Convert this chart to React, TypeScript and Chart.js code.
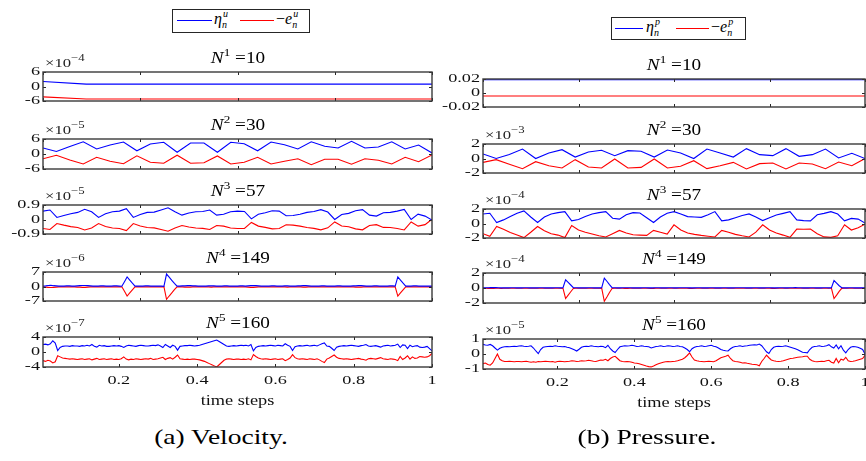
import React, { useEffect, useRef } from "react";
import { Chart, registerables } from "chart.js";

Chart.register(...registerables);

// ---------------- data ----------------
const stageSup = ["1", "2", "3", "4", "5"];
const stageCounts = [10, 30, 57, 149, 160];
const velExponents = ["-4", "-5", "-5", "-6", "-7"];
const presExponents = ["", "-3", "-4", "-4", "-5"];
const velYMax = [6, 6, 0.9, 7, 4];
const presYMax = [0.02, 2, 2, 2, 1];
const bottomTicks = [0.2, 0.4, 0.6, 0.8, 1];
const xAxisTitle = "time steps";

const velN1Eta = [2.1, 1.0, 1.0, 1.0, 1.0, 1.0, 1.0, 1.0, 1.0, 1.0];
const velN1Err = [-4.3, -5.2, -5.2, -5.2, -5.2, -5.2, -5.2, -5.2, -5.2, -5.2];

const velN2Eta = [2.4, 1.0, 3.0, 4.9, 2.0, 3.6, 4.8, 1.3, 4.0, 4.7, 0.7, 4.4, 4.4, 0.7, 4.7, 4.1, 1.3, 4.8, 3.7, 2.0, 4.9, 3.1, 2.4, 5.1, 2.4, 2.8, 4.9, 2.0, 3.6, 0.4];
const velN2Err = [-1.9, -0.5, -2.4, -4.0, -1.3, -2.9, -3.9, -0.7, -3.3, -3.7, -0.5, -3.7, -3.5, -0.8, -4.0, -3.3, -1.3, -4.0, -2.9, -1.9, -4.3, -2.1, -2.1, -4.1, -1.9, -2.5, -4.0, -1.3, -3.1, -0.4];

const velN3Eta = [
  0.52, 0.59, 0.13, 0.25, 0.36, 0.44, 0.63, 0.48, 0.13, 0.36,
  0.48, 0.52, 0.67, 0.13, 0.31, 0.44, 0.46, 0.59, 0.73, 0.48,
  0.27, 0.40, 0.48, 0.50, 0.59, 0.27, 0.33, 0.48, 0.52, 0.50,
  0.04, 0.33, 0.42, 0.54, 0.52, 0.23, 0.25, 0.33, 0.44, 0.50,
  0.61, 0.46, 0.0, 0.31, 0.38, 0.54, 0.61, 0.27, 0.21, 0.42,
  0.44, 0.52, 0.63, 0.0, 0.33, 0.21, -0.04,
];
const velN3Err = [
  -0.56, -0.62, -0.25, -0.35, -0.44, -0.50, -0.65, -0.53, -0.25, -0.44,
  -0.53, -0.56, -0.69, -0.25, -0.40, -0.50, -0.52, -0.62, -0.73, -0.53,
  -0.37, -0.47, -0.53, -0.55, -0.62, -0.37, -0.41, -0.53, -0.56, -0.55,
  -0.18, -0.41, -0.49, -0.58, -0.56, -0.33, -0.35, -0.41, -0.50, -0.55,
  -0.64, -0.52, -0.15, -0.40, -0.45, -0.58, -0.64, -0.37, -0.32, -0.49,
  -0.50, -0.56, -0.65, -0.15, -0.41, -0.32, 0.02,
];

const velN4Eta = [
  0.2, 0.3, 0.5, 0.6, 0.4, 0.3, 0.2, 0.2, 0.2, 0.3,
  0.3, 0.2, 0.2, 0.3, 0.4, 0.5, 0.5, 0.4, 0.3, 0.2,
  0.2, 0.2, 0.3, 0.3, 0.2, 0.2, 0.2, 0.3, 0.3, 0.2,
  0.1, 2.3, 4.6, 3.1, 1.6, 0.2, 0.2, 0.2, 0.2, 0.3,
  0.3, 0.2, 0.2, 0.2, 0.2, 0.2, 0.1, 6.0, 4.5, 3.0,
  1.5, 0.2, 0.2, 0.3, 0.3, 0.4, 0.4, 0.3, 0.3, 0.2,
  0.2, 0.2, 0.2, 0.3, 0.3, 0.3, 0.2, 0.2, 0.2, 0.3,
  0.3, 0.2, 0.2, 0.2, 0.2, 0.3, 0.3, 0.2, 0.3, 0.4,
  0.5, 0.4, 0.3, 0.2, 0.2, 0.2, 0.2, 0.3, 0.3, 0.2,
  0.2, 0.2, 0.3, 0.3, 0.2, 0.2, 0.2, 0.3, 0.3, 0.4,
  0.4, 0.3, 0.2, 0.2, 0.2, 0.2, 0.3, 0.3, 0.2, 0.2,
  0.2, 0.2, 0.3, 0.3, 0.2, 0.2, 0.2, 0.2, 0.3, 0.3,
  0.4, 0.4, 0.3, 0.2, 0.2, 0.2, 0.3, 0.3, 0.2, 0.2,
  0.2, 0.2, 0.3, 0.3, 0.2, 4.6, 3.1, 1.6, 0.2, 0.2,
  0.2, 0.3, 0.3, 0.2, 0.2, 0.2, 0.2, 0.2, 0.2,
];
const velN4Err = [
  -0.2, -0.3, -0.4, -0.5, -0.4, -0.3, -0.2, -0.2, -0.2, -0.2,
  -0.2, -0.2, -0.2, -0.3, -0.3, -0.4, -0.4, -0.3, -0.2, -0.2,
  -0.2, -0.2, -0.2, -0.2, -0.2, -0.2, -0.2, -0.2, -0.2, -0.2,
  -0.1, -2.3, -4.6, -3.1, -1.6, -0.2, -0.2, -0.2, -0.2, -0.2,
  -0.2, -0.2, -0.2, -0.2, -0.2, -0.2, -0.1, -6.2, -4.6, -3.1,
  -1.5, -0.2, -0.2, -0.2, -0.3, -0.3, -0.3, -0.2, -0.2, -0.2,
  -0.2, -0.2, -0.2, -0.2, -0.3, -0.2, -0.2, -0.2, -0.2, -0.2,
  -0.2, -0.2, -0.2, -0.2, -0.2, -0.2, -0.2, -0.2, -0.3, -0.4,
  -0.4, -0.3, -0.2, -0.2, -0.2, -0.2, -0.2, -0.2, -0.2, -0.2,
  -0.2, -0.2, -0.2, -0.3, -0.2, -0.2, -0.2, -0.2, -0.2, -0.3,
  -0.3, -0.2, -0.2, -0.2, -0.2, -0.2, -0.2, -0.2, -0.2, -0.2,
  -0.2, -0.2, -0.2, -0.2, -0.2, -0.2, -0.2, -0.2, -0.2, -0.3,
  -0.3, -0.3, -0.2, -0.2, -0.2, -0.2, -0.2, -0.2, -0.2, -0.2,
  -0.2, -0.2, -0.2, -0.2, -0.2, -4.6, -3.1, -1.6, -0.2, -0.2,
  -0.2, -0.2, -0.2, -0.2, -0.2, -0.2, -0.2, -0.2, -0.2,
];

const velN5Eta = [
  2.0, 2.1, 1.9, 2.2, 3.0, 2.4, 0.4, 1.2, 1.5, 1.6,
  1.6, 1.5, 1.7, 1.6, 1.6, 1.5, 1.7, 1.6, 1.8, 1.6,
  2.0, 1.5, 1.3, 1.8, 1.6, 1.7, 1.5, 1.5, 1.6, 1.7,
  1.6, 1.7, 1.5, 1.2, 1.6, 1.8, 1.7, 1.6, 1.5, 1.7,
  1.8, 1.7, 1.6, 1.6, 1.7, 1.8, 1.7, 1.9, 1.6, 1.2,
  2.0, 1.6, 1.2, 1.8, 1.5, 0.5, 1.5, 1.6, 1.7, 1.7,
  1.8, 1.7, 1.6, 1.7, 1.8, 2.0, 2.2, 2.4, 2.6, 2.8,
  3.0, 3.2, 2.8, 2.4, 2.0, 1.6, 1.5, 1.6, 1.7, 1.6,
  1.7, 1.8, 1.7, 1.8, 1.6, 2.0, 0.3, 1.2, 1.5, 1.6,
  1.7, 1.6, 1.7, 1.8, 1.7, 1.6, 1.8, 1.7, 1.6, 2.2,
  1.8, 1.5, 0.4, 1.4, 1.6, 1.7, 1.6, 1.7, 1.8, 1.6,
  1.7, 1.8, 1.6, 1.9, 2.2, 2.4, 1.6, 1.5, 1.0, 0.4,
  1.3, 1.5, 1.6, 1.7, 1.6, 1.7, 1.8, 1.7, 1.6, 1.5,
  1.7, 1.8, 2.0, 1.6, 1.5, 1.6, 1.7, 1.5, 1.3, 1.6,
  1.7, 1.8, 1.6, 1.7, 1.8, 2.1, 1.2, 1.9, 1.8, 0.9,
  1.8, 1.4, 1.6, 1.7, 1.3, 1.2, 1.3, 1.5, 0.9, 0.3,
];
const velN5Err = [
  -2.3, -2.5, -2.2, -2.4, -2.9, -2.6, -1.0, -1.3, -1.6, -1.7,
  -1.8, -1.9, -1.8, -1.9, -2.0, -1.9, -1.8, -2.0, -1.9, -1.8,
  -2.1, -1.9, -1.7, -2.0, -1.9, -1.8, -2.0, -1.9, -1.8, -2.0,
  -1.9, -2.0, -1.8, -1.3, -1.9, -2.1, -1.9, -2.0, -1.8, -1.9,
  -2.0, -1.9, -1.8, -1.9, -1.7, -2.0, -1.9, -1.8, -1.6, -1.4,
  -2.0, -1.7, -1.5, -1.9, -1.4, -0.8, -1.8, -1.9, -2.0, -1.9,
  -2.0, -1.9, -1.9, -2.0, -2.1, -2.3, -2.5, -2.8, -3.1, -3.4,
  -3.7, -4.0, -3.4, -2.8, -2.2, -1.9, -1.8, -1.9, -2.0, -1.9,
  -1.9, -2.0, -1.9, -2.0, -1.8, -2.1, -0.7, -1.2, -1.6, -1.8,
  -1.9, -1.8, -1.9, -2.0, -1.9, -1.8, -2.0, -1.9, -1.8, -2.3,
  -2.0, -1.6, -0.7, -1.5, -1.8, -1.9, -1.8, -1.9, -2.0, -1.8,
  -1.9, -2.0, -1.8, -2.1, -2.5, -2.8, -1.9, -1.6, -1.2, -0.8,
  -1.4, -1.7, -1.8, -1.9, -1.8, -1.9, -2.0, -1.9, -1.8, -1.7,
  -1.9, -2.0, -2.2, -1.8, -1.7, -1.8, -1.9, -1.7, -1.5, -1.8,
  -1.9, -2.0, -1.8, -1.9, -2.0, -2.3, -1.2, -2.0, -1.6, -1.0,
  -1.9, -1.3, -1.7, -1.6, -1.2, -1.3, -1.4, -1.3, -1.0, -0.4,
];

const presN1Eta = [0.019, 0.019, 0.019, 0.019, 0.019, 0.019, 0.019, 0.019, 0.019, 0.019];
const presN1Err = [-0.0043, -0.0043, -0.0043, -0.0043, -0.0043, -0.0043, -0.0043, -0.0043, -0.0043, -0.0043];

const presN2Eta = [0.62, 0.0, 0.55, 1.31, 0.0, 0.76, 1.22, 0.2, 0.9, 1.13, 0.39, 1.08, 0.99, 0.2, 1.17, 0.76, 0.0, 1.31, 0.76, 0.2, 1.36, 0.53, 0.39, 1.36, 0.3, 0.53, 1.31, 0.07, 0.71, 0.0];
const presN2Err = [-0.53, -0.16, -0.8, -1.4, -0.44, -0.99, -1.31, -0.16, -1.17, -1.31, -0.07, -1.31, -1.22, -0.07, -1.31, -1.08, -0.3, -1.4, -0.99, -0.53, -1.45, -0.71, -0.62, -1.45, -0.62, -0.76, -1.4, -0.48, -0.99, 0.0];

const presN3Eta = [
  1.32, 1.41, 0.14, 0.5, 0.95, 1.4, 1.73, 0.9, 0.14, 0.9,
  1.3, 1.5, 1.64, 0.36, 0.55, 0.95, 1.32, 1.5, 1.64, 0.73,
  0.6, 1.2, 1.5, 1.45, 0.8, 0.14, 0.9, 1.41, 1.64, 1.3,
  0.95, 0.9, 0.85, 1.2, 1.64, 0.36, 0.5, 0.8, 1.1, 1.32,
  0.9, 0.41, 0.8, 1.18, 1.4, 1.64, 0.5, 0.4, 0.36, 1.2,
  1.4, 1.64, 1.3, 0.36, 0.7, 0.6, 0.05,
];
const presN3Err = [
  -1.41, -1.77, -0.41, -0.8, -1.23, -1.6, -1.95, -1.2, -0.41, -1.0,
  -1.41, -1.6, -1.95, -0.27, -0.9, -1.2, -1.45, -1.7, -1.86, -1.4,
  -0.95, -1.3, -1.55, -1.6, -1.64, -0.95, -1.2, -1.45, -0.18, -0.9,
  -1.32, -1.5, -1.64, -1.75, -1.86, -0.95, -1.2, -1.5, -1.7, -1.86,
  -1.2, -0.18, -0.9, -1.32, -1.6, -1.91, -0.77, -0.8, -0.75, -1.4,
  -1.85, -1.91, -1.7, -0.18, -0.9, -0.6, -0.1,
];

const presN4Eta = [
  0.02, 0.03, 0.04, 0.05, 0.06, 0.05, 0.03, 0.02, 0.02, 0.02,
  0.02, 0.03, 0.03, 0.02, 0.02, 0.02, 0.03, 0.03, 0.02, 0.02,
  0.02, 0.02, 0.03, 0.03, 0.02, 0.02, 0.02, 0.02, 0.03, 0.03,
  0.02, 0.05, 1.1, 0.75, 0.4, 0.05, 0.03, 0.02, 0.02, 0.02,
  0.02, 0.03, 0.03, 0.02, 0.02, 0.02, 0.04, 1.32, 0.9, 0.46,
  0.05, 0.03, 0.02, 0.02, 0.03, 0.04, 0.04, 0.03, 0.02, 0.02,
  0.02, 0.02, 0.03, 0.03, 0.02, 0.02, 0.02, 0.03, 0.03, 0.02,
  0.02, 0.02, 0.03, 0.03, 0.02, 0.02, 0.03, 0.04, 0.04, 0.03,
  0.02, 0.02, 0.02, 0.03, 0.03, 0.02, 0.02, 0.02, 0.03, 0.03,
  0.02, 0.02, 0.02, 0.03, 0.03, 0.02, 0.02, 0.02, 0.03, 0.04,
  0.04, 0.03, 0.02, 0.02, 0.02, 0.03, 0.03, 0.02, 0.02, 0.02,
  0.03, 0.03, 0.02, 0.02, 0.02, 0.03, 0.03, 0.02, 0.02, 0.03,
  0.04, 0.05, 0.04, 0.03, 0.02, 0.02, 0.02, 0.03, 0.03, 0.02,
  0.02, 0.02, 0.03, 0.03, 0.02, 0.03, 1.0, 0.65, 0.3, 0.04,
  0.02, 0.02, 0.03, 0.03, 0.02, 0.02, 0.02, 0.02, 0.02,
];
const presN4Err = [
  -0.03, -0.04, -0.05, -0.06, -0.05, -0.04, -0.03, -0.06, -0.03, -0.03,
  -0.03, -0.03, -0.03, -0.03, -0.03, -0.03, -0.04, -0.04, -0.03, -0.03,
  -0.03, -0.03, -0.03, -0.03, -0.03, -0.03, -0.03, -0.03, -0.03, -0.03,
  -0.03, -0.06, -1.4, -0.95, -0.5, -0.06, -0.03, -0.03, -0.03, -0.03,
  -0.03, -0.03, -0.03, -0.03, -0.03, -0.03, -0.05, -1.77, -1.2, -0.6,
  -0.06, -0.03, -0.03, -0.03, -0.04, -0.05, -0.05, -0.04, -0.03, -0.03,
  -0.03, -0.03, -0.03, -0.03, -0.04, -0.06, -0.05, -0.03, -0.03, -0.03,
  -0.03, -0.03, -0.03, -0.03, -0.03, -0.03, -0.03, -0.03, -0.03, -0.04,
  -0.05, -0.06, -0.04, -0.03, -0.03, -0.03, -0.03, -0.03, -0.03, -0.03,
  -0.03, -0.03, -0.03, -0.03, -0.03, -0.03, -0.03, -0.03, -0.03, -0.03,
  -0.03, -0.03, -0.03, -0.03, -0.03, -0.03, -0.03, -0.03, -0.03, -0.03,
  -0.03, -0.04, -0.05, -0.06, -0.04, -0.03, -0.03, -0.03, -0.03, -0.03,
  -0.03, -0.03, -0.03, -0.03, -0.03, -0.03, -0.03, -0.03, -0.03, -0.03,
  -0.03, -0.03, -0.03, -0.03, -0.03, -0.04, -1.41, -0.95, -0.45, -0.05,
  -0.03, -0.03, -0.03, -0.03, -0.03, -0.03, -0.03, -0.03, -0.03,
];

const presN5Eta = [
  0.64, 0.6, 0.58, 0.64, 0.55, 0.4, 0.26, 0.38, 0.45, 0.48,
  0.5, 0.48, 0.5, 0.52, 0.5, 0.53, 0.55, 0.52, 0.5, 0.52,
  0.55, 0.4, 0.2, 0.03, 0.3, 0.45, 0.48, 0.5, 0.52, 0.5,
  0.55, 0.52, 0.5, 0.48, 0.5, 0.45, 0.42, 0.35, 0.28, 0.2,
  0.32, 0.45, 0.5, 0.52, 0.5, 0.55, 0.52, 0.5, 0.48, 0.52,
  0.5, 0.42, 0.58, 0.35, 0.2, 0.1, 0.3, 0.48, 0.52, 0.55,
  0.53, 0.55, 0.58, 0.55, 0.5, 0.52, 0.55, 0.52, 0.5, 0.48,
  0.4, 0.45, 0.5, 0.52, 0.55, 0.5, 0.52, 0.55, 0.53, 0.5,
  0.52, 0.55, 0.5, 0.48, 0.4, 0.3, 0.15, 0.35, 0.45, 0.5,
  0.52, 0.55, 0.5, 0.52, 0.55, 0.58, 0.52, 0.48, 0.4, 0.3,
  0.25, 0.22, 0.2, 0.35, 0.45, 0.5, 0.52, 0.55, 0.5, 0.53,
  0.55, 0.58, 0.6, 0.62, 0.6, 0.66, 0.55, 0.35, 0.15, 0.03,
  0.3, 0.45, 0.5, 0.52, 0.5, 0.52, 0.55, 0.5, 0.45, 0.4,
  0.35, 0.28, 0.2, 0.12, 0.1, 0.08, 0.3, 0.45, 0.5, 0.52,
  0.55, 0.5, 0.52, 0.55, 0.62, 0.48, 0.4, 0.6, 0.35, 0.55,
  0.25, 0.08, 0.3, 0.45, 0.5, 0.48, 0.45, 0.38, 0.3, 0.0,
];
const presN5Err = [
  -0.64, -0.6, -0.7, -0.75, -0.6, -0.3, 0.0, -0.35, -0.45, -0.5,
  -0.5, -0.48, -0.5, -0.52, -0.5, -0.5, -0.52, -0.5, -0.48, -0.52,
  -0.55, -0.52, -0.55, -0.5, -0.52, -0.5, -0.48, -0.5, -0.52, -0.5,
  -0.55, -0.5, -0.48, -0.5, -0.52, -0.5, -0.48, -0.45, -0.47, -0.5,
  -0.48, -0.45, -0.47, -0.45, -0.42, -0.45, -0.48, -0.5, -0.45, -0.4,
  -0.42, -0.35, -0.45, -0.3, -0.2, -0.15, -0.3, -0.45, -0.5, -0.52,
  -0.5, -0.52, -0.55, -0.6, -0.62, -0.65, -0.7, -0.75, -0.8, -0.84,
  -0.86, -0.8, -0.72, -0.65, -0.6, -0.55, -0.52, -0.5, -0.52, -0.5,
  -0.48, -0.45, -0.4, -0.35, -0.25, -0.1, 0.07, -0.2, -0.4, -0.45,
  -0.48, -0.5, -0.52, -0.5, -0.48, -0.5, -0.52, -0.45, -0.35, -0.25,
  -0.2, -0.15, -0.08, -0.3, -0.45, -0.5, -0.52, -0.55, -0.6, -0.58,
  -0.62, -0.65, -0.68, -0.7, -0.72, -0.78, -0.5, -0.3, -0.08, -0.25,
  -0.4, -0.45, -0.48, -0.5, -0.48, -0.45, -0.4, -0.35, -0.3, -0.28,
  -0.25, -0.22, -0.2, -0.18, -0.15, -0.15, -0.35, -0.45, -0.5, -0.52,
  -0.5, -0.48, -0.5, -0.45, -0.42, -0.55, -0.6, -0.3, -0.58, -0.35,
  -0.4, -0.22, -0.45, -0.5, -0.48, -0.45, -0.4, -0.35, -0.3, -0.08,
];

const velEta = [velN1Eta, velN2Eta, velN3Eta, velN4Eta, velN5Eta];
const velErr = [velN1Err, velN2Err, velN3Err, velN4Err, velN5Err];
const presEta = [presN1Eta, presN2Eta, presN3Eta, presN4Eta, presN5Eta];
const presErr = [presN1Err, presN2Err, presN3Err, presN4Err, presN5Err];

// ---------------- layout ----------------
const FONT = '"Liberation Serif", "Times New Roman", serif';
const TOP_PAD = 14;
const RIGHT_PAD = 14;
const X_H = 46;
const TICK_SIZE = 13;
const TICK_STRETCH = 1.4;
const columns = [
  { canvasLeft: 0, plotL: 43, plotR: 432, rows: [[72, 101], [139, 169], [205, 234], [272, 301], [337, 367]] },
  { canvasLeft: 440, plotL: 483, plotR: 865, rows: [[79, 107], [144, 173], [209, 238], [273, 303], [339, 369]] },
];

function stretchedText(ctx: any, text: string, x: number, y: number, align: string, size: number, stretch: number) {
  ctx.save();
  ctx.translate(x, y);
  ctx.scale(stretch, 1);
  ctx.font = `${size}px ${FONT}`;
  ctx.fillStyle = "#111";
  ctx.textAlign = align;
  ctx.textBaseline = "middle";
  ctx.fillText(text, 0, 0);
  ctx.restore();
}

const boxPlugin = {
  id: "matlabBox",
  afterDatasetsDraw(chart: any, _args: any, opts: any) {
    const { ctx, chartArea, scales } = chart;
    const { left, right, top, bottom } = chartArea;
    const L = 3;
    ctx.save();
    ctx.strokeStyle = "#262626";
    ctx.lineWidth = 1;
    ctx.beginPath();
    scales.x.ticks.forEach((t: any) => {
      const px = Math.round(scales.x.getPixelForValue(t.value)) + 0.5;
      ctx.moveTo(px, bottom);
      ctx.lineTo(px, bottom - L);
      ctx.moveTo(px, top);
      ctx.lineTo(px, top + L);
    });
    scales.y.ticks.forEach((t: any) => {
      const py = Math.round(scales.y.getPixelForValue(t.value)) + 0.5;
      ctx.moveTo(left, py);
      ctx.lineTo(left + L, py);
      ctx.moveTo(right, py);
      ctx.lineTo(right - L, py);
    });
    ctx.stroke();
    ctx.strokeStyle = "#3a3a3a";
    ctx.lineWidth = 1.4;
    ctx.strokeRect(left, top, right - left, bottom - top);
    ctx.restore();

    // tick labels (stretched like the reference typeface)
    scales.y.ticks.forEach((t: any) => {
      stretchedText(ctx, String(t.value), left - 3, scales.y.getPixelForValue(t.value), "right", TICK_SIZE, TICK_STRETCH);
    });
    if (opts.showX) {
      scales.x.ticks.forEach((t: any) => {
        stretchedText(ctx, String(t.value), scales.x.getPixelForValue(t.value), bottom + 14, "center", TICK_SIZE, TICK_STRETCH);
      });
      stretchedText(ctx, opts.title, (left + right) / 2, bottom + 34, "center", 15, 1.22);
    }
  },
};

type PanelProps = {
  col: number;
  row: number;
  eta: number[];
  err: number[];
  yMax: number;
};

function Panel({ col, row, eta, err, yMax }: PanelProps) {
  const ref = useRef<HTMLCanvasElement>(null);
  const c = columns[col];
  const [pt, pb] = c.rows[row];
  const isBottom = row === 4;
  const canvasW = c.plotR + RIGHT_PAD - c.canvasLeft;
  const canvasH = isBottom ? TOP_PAD + (pb - pt) + X_H : TOP_PAD * 2 + (pb - pt);
  const yW = c.plotL - c.canvasLeft;
  const n = eta.length;
  const xMin = 1 / n;
  const xTicks = isBottom ? bottomTicks : [0, 1, 2, 3, 4].map((k) => xMin + (k * (1 - xMin)) / 4);
  const yTicks = [-yMax, 0, yMax];

  useEffect(() => {
    const chart = new Chart(ref.current as HTMLCanvasElement, {
      type: "line",
      data: {
        datasets: [
          {
            data: eta.map((v, i) => ({ x: (i + 1) / n, y: v })),
            borderColor: "#0000ff",
            borderWidth: 1.1,
            pointRadius: 0,
            tension: 0,
          },
          {
            data: err.map((v, i) => ({ x: (i + 1) / n, y: v })),
            borderColor: "#ff0000",
            borderWidth: 1.1,
            pointRadius: 0,
            tension: 0,
          },
        ],
      },
      options: {
        animation: false,
        responsive: false,
        devicePixelRatio: 1,
        events: [],
        layout: { padding: { top: TOP_PAD, right: RIGHT_PAD, bottom: isBottom ? 0 : TOP_PAD, left: 0 } },
        plugins: {
          legend: { display: false },
          tooltip: { enabled: false },
          matlabBox: { showX: isBottom, title: xAxisTitle },
        } as any,
        scales: {
          x: {
            type: "linear",
            min: xMin,
            max: 1,
            afterBuildTicks: (s: any) => {
              s.ticks = xTicks.map((v) => ({ value: v }));
            },
            afterFit: (s: any) => {
              s.height = isBottom ? X_H : 0;
            },
            ticks: { display: false },
            grid: { display: false, drawTicks: false },
            border: { display: false },
          },
          y: {
            type: "linear",
            min: -yMax,
            max: yMax,
            afterBuildTicks: (s: any) => {
              s.ticks = yTicks.map((v) => ({ value: v }));
            },
            afterFit: (s: any) => {
              s.width = yW;
            },
            ticks: { display: false },
            grid: { display: false, drawTicks: false },
            border: { display: false },
          },
        },
      } as any,
      plugins: [boxPlugin as any],
    });
    return () => chart.destroy();
  }, []);

  return (
    <canvas
      ref={ref}
      width={canvasW}
      height={canvasH}
      style={{ position: "absolute", left: c.canvasLeft, top: pt - TOP_PAD, width: canvasW, height: canvasH }}
    />
  );
}

function Sup({ children, size = 11, rise = 7 }: any) {
  return <span style={{ fontSize: size, position: "relative", top: -rise }}>{children}</span>;
}

function SupSub({ sup, sub }: { sup: string; sub: string }) {
  return (
    <span style={{ position: "relative", display: "inline-block", width: 8, height: 1 }}>
      <span style={{ position: "absolute", left: 1, top: -14, fontSize: 10, lineHeight: "10px" }}>{sup}</span>
      <span style={{ position: "absolute", left: 0, top: -3, fontSize: 10, lineHeight: "10px" }}>{sub}</span>
    </span>
  );
}

function Legend({ x, y, w, h, lineY, l1, l2, t1, l3, l4, t2, s }: any) {
  const base = lineY + 4;
  return (
    <>
      <div style={{ position: "absolute", left: x, top: y, width: w, height: h, border: "1px solid #262626", boxSizing: "border-box", background: "#fff" }} />
      <div style={{ position: "absolute", left: l1, top: lineY, width: l2 - l1, height: 1, background: "#0000ff" }} />
      <div style={{ position: "absolute", left: l3, top: lineY, width: l4 - l3, height: 1, background: "#ff0000" }} />
      <div style={{ position: "absolute", left: t1, top: base - 0.84 * 16, fontSize: 16, lineHeight: "16px", fontStyle: "italic", whiteSpace: "nowrap" }}>
        η<SupSub sup={s} sub="n" />
      </div>
      <div style={{ position: "absolute", left: t2, top: base - 0.84 * 16, fontSize: 16, lineHeight: "16px", fontStyle: "italic", whiteSpace: "nowrap" }}>
        <span style={{ fontStyle: "normal" }}>−</span>e<SupSub sup={s} sub="n" />
      </div>
    </>
  );
}

export default function App() {
  const overlays: any[] = [];
  columns.forEach((c, col) => {
    const cx = (c.plotL + c.plotR) / 2;
    c.rows.forEach(([pt], row) => {
      const titleBase = pt - 9;
      overlays.push(
        <div
          key={`t${col}${row}`}
          style={{
            position: "absolute", left: cx - 80, width: 160, textAlign: "center", top: titleBase - 0.84 * 16,
            fontSize: 16, lineHeight: "16px", whiteSpace: "nowrap", transform: "scaleX(1.2)", transformOrigin: "center",
          }}
        >
          <i>N</i>
          <Sup size={11} rise={7}>{stageSup[row]}</Sup> ={stageCounts[row]}
        </div>
      );
      const ex = col === 0 ? velExponents[row] : presExponents[row];
      if (ex) {
        const eBase = pt - 5;
        overlays.push(
          <div
            key={`e${col}${row}`}
            style={{
              position: "absolute", left: c.plotL + 2, top: eBase - 0.84 * 13, fontSize: 13, lineHeight: "13px",
              whiteSpace: "nowrap", color: "#222", transform: "scaleX(1.28)", transformOrigin: "left",
            }}
          >
            ×10<Sup size={10} rise={6}>{ex.replace("-", "−")}</Sup>
          </div>
        );
      }
    });
  });

  return (
    <div style={{ position: "absolute", left: 0, top: 0, width: 866, height: 461, overflow: "hidden", background: "#fff", fontFamily: FONT, color: "#000" }}>
      {velEta.map((d, r) => (
        <Panel key={`v${r}`} col={0} row={r} eta={d} err={velErr[r]} yMax={velYMax[r]} />
      ))}
      {presEta.map((d, r) => (
        <Panel key={`p${r}`} col={1} row={r} eta={d} err={presErr[r]} yMax={presYMax[r]} />
      ))}
      {overlays}
      <Legend x={172} y={9} w={138} h={24} lineY={20} l1={177} l2={212} t1={214} l3={240} l4={274} t2={276} s="u" />
      <Legend x={611} y={17} w={135} h={23} lineY={28} l1={615} l2={643} t1={646} l3={676} l4={709} t2={711} s="p" />
      <div style={{ position: "absolute", left: 121, width: 200, textAlign: "center", top: 444 - 0.84 * 22, fontSize: 22, lineHeight: "22px", transform: "scaleX(1.25)", transformOrigin: "center" }}>(a) Velocity.</div>
      <div style={{ position: "absolute", left: 547, width: 200, textAlign: "center", top: 444 - 0.84 * 22, fontSize: 22, lineHeight: "22px", transform: "scaleX(1.25)", transformOrigin: "center" }}>(b) Pressure.</div>
    </div>
  );
}
